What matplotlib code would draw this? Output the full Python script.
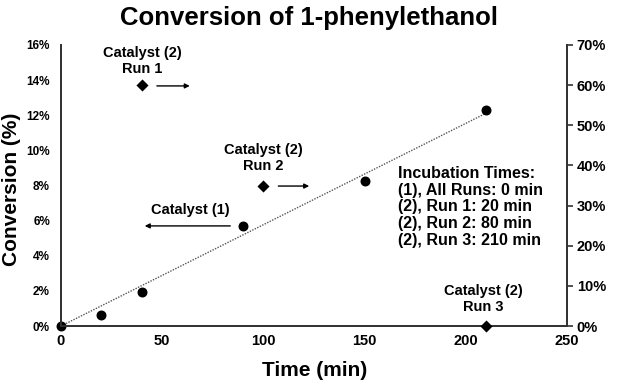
import numpy as np
from matplotlib import pyplot as plt
from matplotlib.ticker import PercentFormatter

plt.rcParams["font.family"] = ["Liberation Sans", "DejaVu Sans"]
plt.rcParams["font.weight"] = "bold"

# catalyst (1), left axis (%)
cat1_time = [0, 20, 40, 90, 150, 210]
cat1_conv = [0.0, 0.63, 1.94, 5.7, 8.26, 12.3]

# catalyst (2) runs, right axis (%)
cat2_time = [40, 100, 210]
cat2_conv = [60, 35, 0]

incubation = [
    "Incubation Times:",
    "(1), All Runs: 0 min",
    "(2), Run 1: 20 min",
    "(2), Run 2: 80 min",
    "(2), Run 3: 210 min",
]

fig = plt.figure(figsize=(6.18, 3.8), dpi=100)
ax = fig.add_axes([0.0987, 0.142, 0.8188, 0.7396])
ax2 = ax.twinx()

# trendline through origin
t = np.array(cat1_time, dtype=float)
c = np.array(cat1_conv)
slope = (t * c).sum() / (t * t).sum()
ax.plot([0, 210], [0, slope * 210], ls=(0, (1, 1)), color="#555555", lw=1.0, zorder=2)
ax.scatter(cat1_time, cat1_conv, s=38, color="black", zorder=3, clip_on=False)
ax2.scatter(cat2_time, cat2_conv, s=38, marker="D", color="black", zorder=3, clip_on=False,
            linewidths=0)

ax.set_xlim(0, 250)
ax.set_ylim(0, 16)
ax2.set_ylim(0, 70)
ax.set_xticks([0, 50, 100, 150, 200, 250])
ax.set_yticks(range(0, 17, 2))
ax2.set_yticks(range(0, 71, 10))
ax.yaxis.set_major_formatter(PercentFormatter(decimals=0))
ax2.yaxis.set_major_formatter(PercentFormatter(decimals=0))

for a in (ax, ax2):
    a.spines["top"].set_visible(False)
    for sp in a.spines.values():
        sp.set_linewidth(1.3)
        sp.set_color("#333333")
ax.tick_params(axis="y", labelsize=8.5, length=0, pad=8)
ax.tick_params(axis="x", labelsize=10.5, length=0, pad=6)
ax2.tick_params(axis="y", labelsize=10.5, length=4, width=1.2, color="#333333", pad=3)
for lbl in ax.get_xticklabels() + ax.get_yticklabels() + ax2.get_yticklabels():
    lbl.set_fontweight("bold")

ax.set_xlabel("Time (min)", fontsize=15, fontweight="bold")
ax.xaxis.set_label_coords(0.501, -0.125)
ax.set_ylabel("Conversion (%)", fontsize=15, fontweight="bold")
ax.yaxis.set_label_coords(-0.08, 0.4875)
fig.suptitle("Conversion of 1-phenylethanol", fontsize=18.5, fontweight="bold", y=0.984)

arrow = dict(arrowstyle="-|>", color="black", lw=1.0, mutation_scale=7)
ax.annotate("", xy=(65, 13.67), xytext=(46, 13.67), arrowprops=arrow)
ax.annotate("", xy=(124, 7.97), xytext=(106, 7.97), arrowprops=arrow)
ax.annotate("", xy=(40, 5.7), xytext=(85, 5.7), arrowprops=arrow)

ax.text(40, 15.1, "Catalyst (2)\nRun 1", ha="center", va="center", fontsize=10.5,
        fontweight="bold", linespacing=1.2)
ax.text(100, 9.57, "Catalyst (2)\nRun 2", ha="center", va="center", fontsize=10.5,
        fontweight="bold", linespacing=1.2)
ax.text(64, 6.6, "Catalyst (1)", ha="center", va="center", fontsize=10.5, fontweight="bold")
ax.text(208.5, 1.54, "Catalyst (2)\nRun 3", ha="center", va="center", fontsize=10.5,
        fontweight="bold", linespacing=1.2)
ax.text(166.5, 6.78, "\n".join(incubation), ha="left", va="center", fontsize=11.5,
        fontweight="bold", linespacing=1.15)

fig.savefig("out.png", dpi=100)
